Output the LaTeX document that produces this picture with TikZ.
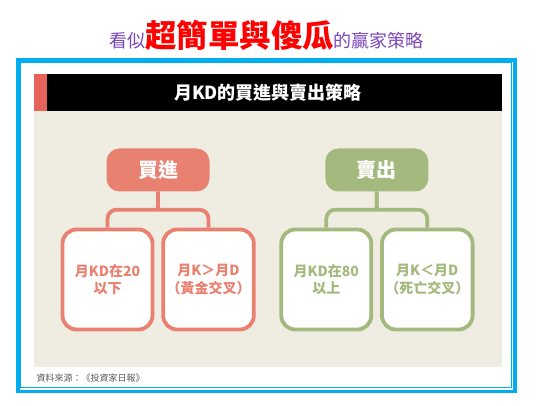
\documentclass[tikz,border=0pt]{standalone}
\usepackage{fontspec}
\newfontfamily\cjk{Noto Sans CJK TC}
\definecolor{framecol}{HTML}{00AEEF}
\definecolor{panelcol}{HTML}{EFECE2}
\definecolor{tagcol}{HTML}{E5635A}
\definecolor{buycol}{HTML}{E8816F}
\definecolor{sellcol}{HTML}{A3B97D}
\definecolor{titlecol}{HTML}{7A45B8}
\tikzset{
	rootbox/.style = {text = white, minimum width = 103pt, minimum height = 43pt,
		rounded corners = 13pt, font = \cjk\bfseries\fontsize{20}{20}\selectfont},
	leafbox/.style = {draw, fill = white, line width = 3.8pt, minimum width = 90pt,
		minimum height = 100pt, rounded corners = 14pt, align = center,
		font = \cjk\bfseries\fontsize{14}{17.5}\selectfont},
	kdtree/.style = {level distance = 109.5pt, sibling distance = 101pt,
		edge from parent/.style = {draw, line width = 3.8pt, rounded corners = 9pt},
		edge from parent path = {(\tikzparentnode.south) -- ++(0,-18pt) ++(0,0)
			-| (\tikzchildnode.north)}}
}
\begin{document}
\begin{tikzpicture}[x = 1pt, y = -1pt]
	\useasboundingbox (0,0) rectangle (536,406);
	% title
	\node (title) at (266.5,35) {\cjk\color{titlecol}\fontsize{18}{18}\selectfont 看似%
		{\color{red}\bfseries\fontsize{31.5}{31.5}\selectfont 超簡單與傻瓜}的贏家策略};
	% frame
	\draw[framecol, line width = 3.6pt] (17.8,59.8) rectangle (515.2,391.4);
	\draw[framecol, line width = 0.9pt] (20.8,62.8) rectangle (511.2,387.8);
	% panel
	\fill[panelcol] (34.3,110.7) rectangle (501.7,366.7);
	\fill[tagcol] (34.3,74) rectangle (47.3,110.7);
	\fill[black] (47.3,74) rectangle (501.7,110.7);
	\node[text = white, font = \cjk\bfseries\fontsize{18}{18}\selectfont] (head) at (268,92.3)
		{月KD的買進與賣出策略};
	% trees
	\node[rootbox, fill = buycol] (buy) at (158,170) {買進} [kdtree, color = buycol]
		child {node[leafbox] (buyLow) {月KD在20\\以下}}
		child {node[leafbox] (buyCross) {月K＞月D\\（黃金交叉）}}
	;
	\node[rootbox, fill = sellcol] (sell) at (376.8,170) {賣出} [kdtree, color = sellcol]
		child {node[leafbox] (sellHigh) {月KD在80\\以上}}
		child {node[leafbox] (sellCross) {月K＜月D\\（死亡交叉）}}
	;
	\node[anchor = west, text = black!65, font = \cjk\fontsize{9}{9}\selectfont] (source)
		at (33,378) {資料來源：《投資家日報》};
\end{tikzpicture}
\end{document}
